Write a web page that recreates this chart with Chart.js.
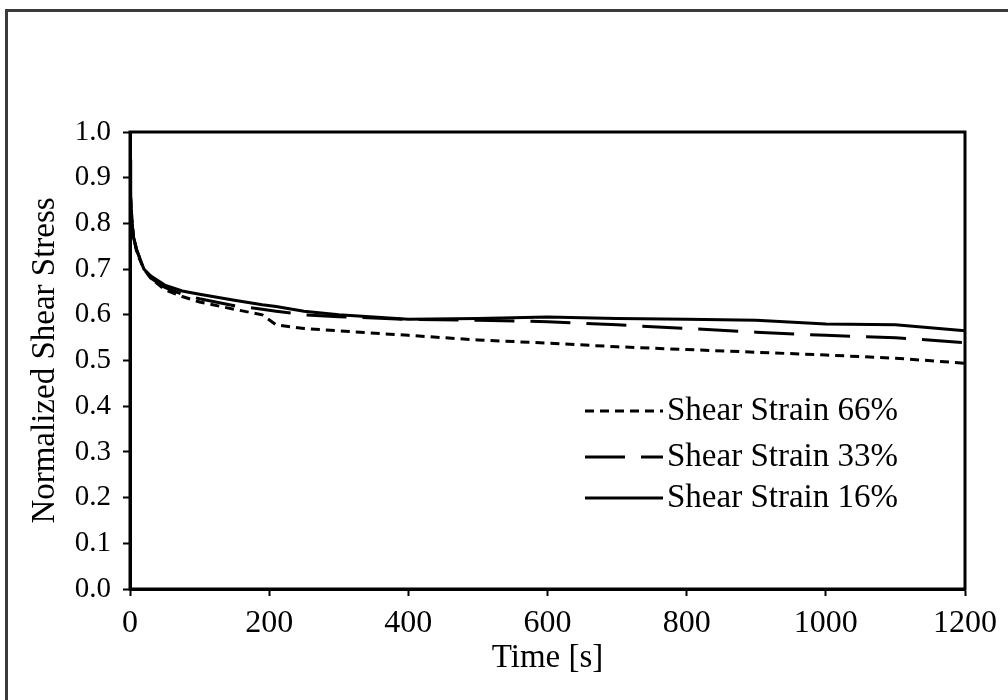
<!DOCTYPE html>
<html>
<head>
<meta charset="utf-8">
<script src="https://cdn.jsdelivr.net/npm/chart.js@4.4.1/dist/chart.umd.min.js"></script>
<style>
  html, body { margin: 0; padding: 0; background: #fff; }
  #wrap { position: relative; width: 1008px; height: 700px; }
  #frame { position: absolute; left: 5px; top: 9px; right: -10px; bottom: -10px;
           border-top: 3px solid #3a3a3a; border-left: 3px solid #3a3a3a; pointer-events: none; }
</style>
</head>
<body>
<div id="wrap">
  <canvas id="chart" width="1008" height="700"></canvas>
  <div id="frame"></div>
</div>
<script>
// Time in seconds where values were read
const timeS = [0, 1, 3, 5, 10, 20, 30, 50, 75, 100, 150, 190, 210, 250, 300, 400, 500, 600, 700, 800, 900, 1000, 1100, 1200];

// Normalized shear stress for each strain level
const strain16 = [0.94, 0.86, 0.80, 0.77, 0.74, 0.70, 0.685, 0.665, 0.652, 0.645, 0.632, 0.622, 0.618, 0.608, 0.600, 0.590, 0.592, 0.595, 0.592, 0.590, 0.588, 0.580, 0.578, 0.565];
const strain33 = [0.93, 0.85, 0.80, 0.77, 0.74, 0.70, 0.68, 0.66, 0.645, 0.635, 0.620, 0.612, 0.608, 0.600, 0.596, 0.590, 0.588, 0.585, 0.578, 0.570, 0.562, 0.555, 0.550, 0.539];
const strain66 = [0.92, 0.85, 0.80, 0.77, 0.735, 0.70, 0.68, 0.655, 0.640, 0.628, 0.612, 0.600, 0.578, 0.570, 0.565, 0.555, 0.545, 0.538, 0.530, 0.524, 0.518, 0.512, 0.505, 0.494];

const seriesLabels = ['Shear Strain 66%', 'Shear Strain 33%', 'Shear Strain 16%'];
const xTicks = [0, 200, 400, 600, 800, 1000, 1200];
const yTicks = [0, 0.1, 0.2, 0.3, 0.4, 0.5, 0.6, 0.7, 0.8, 0.9, 1.0];

const FONT = 'Liberation Serif, "Times New Roman", serif';
const toPoints = vals => vals.map((v, i) => ({ x: timeS[i], y: v }));

// box around the plot area
const boxPlugin = {
    id: 'box',
    afterDatasetsDraw(chart) {
        const { ctx, chartArea: a } = chart;
        ctx.save();
        ctx.strokeStyle = '#000';
        ctx.lineWidth = 3;
        ctx.strokeRect(a.left, a.top, a.right - a.left, a.bottom - a.top);
        ctx.restore();
    }
};

// legend drawn inside the plot, line sample on the left of each label
const legendPlugin = {
    id: 'innerLegend',
    afterDraw(chart) {
        const { ctx } = chart;
        const rows = [411, 457, 498];
        ctx.save();
        chart.data.datasets.forEach((ds, i) => {
            ctx.beginPath();
            ctx.setLineDash(ds.borderDash || []);
            ctx.lineWidth = 3;
            ctx.strokeStyle = '#000';
            ctx.moveTo(585, rows[i]);
            ctx.lineTo(663, rows[i]);
            ctx.stroke();
            ctx.setLineDash([]);
            ctx.fillStyle = '#000';
            ctx.font = '33px ' + FONT;
            ctx.textBaseline = 'middle';
            ctx.textAlign = 'left';
            ctx.fillText(ds.label, 667, rows[i]);
        });
        ctx.restore();
    }
};

new Chart(document.getElementById('chart'), {
    type: 'line',
    data: {
        datasets: [
            { label: seriesLabels[0], data: toPoints(strain66), borderDash: [9, 6] },
            { label: seriesLabels[1], data: toPoints(strain33), borderDash: [40, 16] },
            { label: seriesLabels[2], data: toPoints(strain16) }
        ].map(ds => Object.assign({
            borderColor: '#000',
            borderWidth: 3,
            pointRadius: 0,
            tension: 0,
            fill: false
        }, ds))
    },
    options: {
        responsive: false,
        animation: false,
        layout: { padding: { top: 132, right: 43, left: 0, bottom: 0 } },
        plugins: { legend: { display: false }, tooltip: { enabled: false } },
        scales: {
            x: {
                type: 'linear',
                min: 0,
                max: 1200,
                afterBuildTicks: s => { s.ticks = xTicks.map(v => ({ value: v })); },
                afterFit: s => { s.height = 111; },
                grid: { drawOnChartArea: false, tickLength: 7, tickWidth: 2, tickColor: '#000' },
                border: { color: '#000', width: 3 },
                ticks: { color: '#000', padding: 8, maxRotation: 0, callback: v => String(v), font: { family: FONT, size: 32 } },
                title: { display: true, text: 'Time [s]', color: '#000', padding: { top: 0, bottom: 22 }, font: { family: FONT, size: 33 } }
            },
            y: {
                min: 0,
                max: 1,
                afterBuildTicks: s => { s.ticks = yTicks.map(v => ({ value: v })); },
                afterFit: s => { s.width = 130; },
                grid: { drawOnChartArea: false, tickLength: 7, tickWidth: 2, tickColor: '#000' },
                border: { color: '#000', width: 3 },
                ticks: { color: '#000', padding: 12, callback: v => v.toFixed(1), font: { family: FONT, size: 29 } },
                title: { display: true, text: 'Normalized Shear Stress', color: '#000', padding: { top: 26, bottom: 0 }, font: { family: FONT, size: 33 } }
            }
        }
    },
    plugins: [boxPlugin, legendPlugin]
});
</script>
</body>
</html>
